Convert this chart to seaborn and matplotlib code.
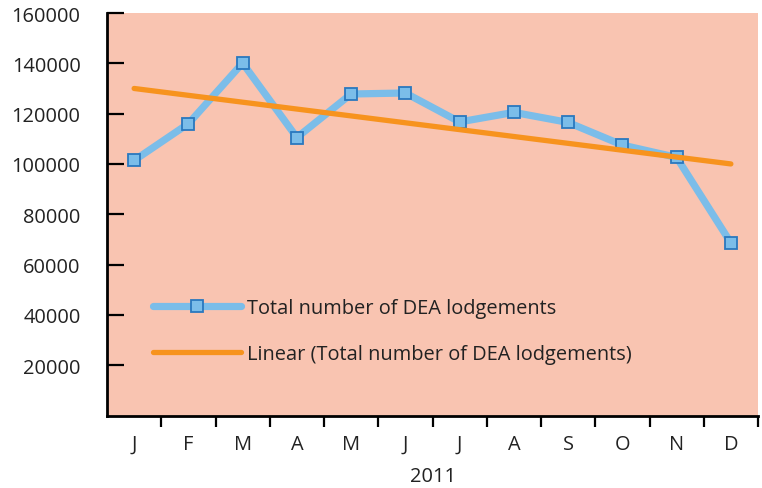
import matplotlib
matplotlib.use("Agg")
import matplotlib.pyplot as plt
import seaborn as sns
import pandas as pd
import numpy as np
from matplotlib.ticker import FixedLocator

months = ["J", "F", "M", "A", "M", "J", "J", "A", "S", "O", "N", "D"]
lodgements = [101400, 116000, 140100, 110500, 127800, 128200,
              116700, 120500, 116500, 107500, 102600, 68600]
trend_pos = [0, 11]
trend_vals = [130000, 100000]
y_ticks = [20000, 40000, 60000, 80000, 100000, 120000, 140000, 160000]
x_title = "2011"
series_name = "Total number of DEA lodgements"
trend_name = "Linear (Total number of DEA lodgements)"

sns.set_style("ticks")
plt.rcParams["font.family"] = ["Open Sans", "DejaVu Sans"]

BG = "#F9C4B1"
BLUE = "#7BBDE9"
EDGE = "#2A78BE"
ORANGE = "#F7931E"
TXT = "#222222"
FS = 14.4

fig = plt.figure(figsize=(7.62, 4.89), dpi=100)
ax = fig.add_axes([107/762, 1 - 416.5/489, 651/762, 402.5/489])
ax.set_facecolor(BG)

df = pd.DataFrame({"pos": np.arange(len(months)), "value": lodgements})
tdf = pd.DataFrame({"pos": trend_pos, "value": trend_vals})

sns.lineplot(data=df, x="pos", y="value", ax=ax, color=BLUE, linewidth=5.2,
             marker="s", markersize=8.5, markerfacecolor=BLUE,
             markeredgecolor=EDGE, markeredgewidth=1.3,
             label=series_name, zorder=3, solid_capstyle="round")
sns.lineplot(data=tdf, x="pos", y="value", ax=ax, color=ORANGE, linewidth=3.8,
             label=trend_name, zorder=4, solid_capstyle="round")

ax.set_xlim(-0.5, 11.5)
ax.set_ylim(0, 160000)

ax.set_yticks(y_ticks)
ax.set_yticklabels([str(v) for v in y_ticks])
ax.tick_params(axis="y", direction="in", length=12, width=1.6, pad=19,
               labelsize=FS, colors="black", labelcolor=TXT)

ax.set_xticks(np.arange(len(months)))
ax.set_xticklabels(months)
ax.xaxis.set_minor_locator(FixedLocator(np.arange(0.5, 12, 1.0)))
ax.tick_params(axis="x", which="major", length=0, pad=13, labelsize=FS,
               labelcolor=TXT)
ax.tick_params(axis="x", which="minor", direction="out", length=8, width=1.6,
               colors="black")

ax.set_xlabel(x_title, fontsize=FS, color=TXT, labelpad=9)
ax.set_ylabel("")

for s in ["top", "right"]:
    ax.spines[s].set_visible(False)
for s in ["left", "bottom"]:
    ax.spines[s].set_linewidth(2)
    ax.spines[s].set_color("black")

leg = ax.legend(loc="center left", bbox_to_anchor=(0.0707, 0.209),
                frameon=False, fontsize=FS, borderpad=0, borderaxespad=0,
                handlelength=4.4, handletextpad=0.3, labelspacing=1.3)
for t in leg.get_texts():
    t.set_color(TXT)

fig.savefig("out.png", dpi=100, facecolor="white")
